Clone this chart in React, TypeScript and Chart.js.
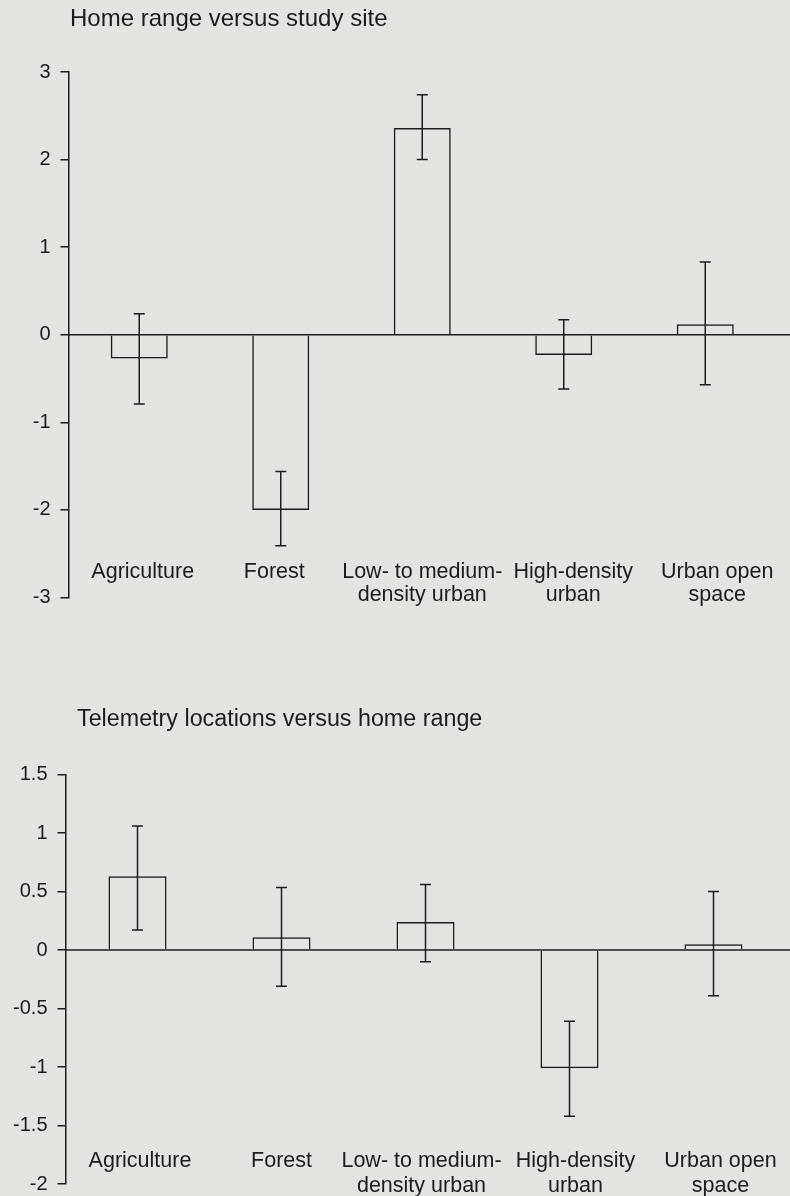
import React, { useEffect, useRef } from "react";
import { Chart, registerables } from "chart.js";

Chart.register(...registerables);

// ---------- data ----------
const categories: string[][] = [
  ["Agriculture"],
  ["Forest"],
  ["Low- to medium-", "density urban"],
  ["High-density", "urban"],
  ["Urban open", "space"],
];

const homeTitle = "Home range versus study site";
const homeValues = [-0.27, -2.0, 2.36, -0.23, 0.12];
const homeErrHigh = [0.24, -1.56, 2.74, 0.17, 0.83];
const homeErrLow = [-0.79, -2.41, 2.0, -0.62, -0.57];
const homeTicks = [3, 2, 1, 0, -1, -2, -3];
const homeTickLabels = ["3", "2", "1", "0", "-1", "-2", "-3"];

const telTitle = "Telemetry locations versus home range";
const telValues = [0.63, 0.11, 0.24, -1.01, 0.05];
const telErrHigh = [1.06, 0.535, 0.56, -0.61, 0.5];
const telErrLow = [0.17, -0.31, -0.1, -1.42, -0.39];
const telTicks = [1.5, 1, 0.5, 0, -0.5, -1, -1.5, -2];
const telTickLabels = ["1.5", "1", "0.5", "0", "-0.5", "-1", "-1.5", "-2"];

// ---------- style ----------
const INK = "#1c1c1c";
const BG = "#e4e3e0";
const FONT = "'Liberation Sans', Arial, Helvetica, sans-serif";

type PanelCfg = {
  title: string;
  values: number[];
  high: number[];
  low: number[];
  ticks: number[];
  tickLabels: string[];
  height: number;
  axisWidth: number;
  padTop: number;
  padBottom: number;
  padRight: number;
  titleX: number;
  titleY: number;
  titleSize: number;
  labelShift: number[];
  line1: number;
  line2: number;
};

function makeOverlay(cfg: PanelCfg) {
  return {
    id: "overlay",
    afterDatasetsDraw(chart: any) {
      const { ctx, chartArea } = chart;
      const xs = chart.scales.x;
      const ys = chart.scales.y;
      ctx.save();
      ctx.strokeStyle = INK;
      ctx.lineWidth = 1.5;
      // zero line
      const y0 = ys.getPixelForValue(0);
      ctx.beginPath();
      ctx.moveTo(chartArea.left, y0);
      ctx.lineTo(chart.width, y0);
      ctx.stroke();
      // error bars
      cfg.values.forEach((_v, i) => {
        const cx = xs.getPixelForValue(i);
        const yh = ys.getPixelForValue(cfg.high[i]);
        const yl = ys.getPixelForValue(cfg.low[i]);
        ctx.beginPath();
        ctx.moveTo(cx, yh);
        ctx.lineTo(cx, yl);
        ctx.moveTo(cx - 5.5, yh);
        ctx.lineTo(cx + 5.5, yh);
        ctx.moveTo(cx - 5.5, yl);
        ctx.lineTo(cx + 5.5, yl);
        ctx.stroke();
      });
      // category labels
      ctx.fillStyle = INK;
      ctx.font = `21.5px ${FONT}`;
      ctx.textAlign = "center";
      ctx.textBaseline = "alphabetic";
      categories.forEach((lines, i) => {
        const cx = xs.getPixelForValue(i) + cfg.labelShift[i];
        lines.forEach((t, k) => {
          ctx.fillText(t, cx, chartArea.bottom + (k === 0 ? cfg.line1 : cfg.line2));
        });
      });
      // title
      ctx.font = `${cfg.titleSize}px ${FONT}`;
      ctx.textAlign = "left";
      ctx.fillText(cfg.title, cfg.titleX, cfg.titleY);
      ctx.restore();
    },
  };
}

function Panel({ cfg }: { cfg: PanelCfg }) {
  const ref = useRef<HTMLCanvasElement | null>(null);
  useEffect(() => {
    if (!ref.current) return;
    const chart = new Chart(ref.current, {
      type: "bar",
      data: {
        labels: categories.map((c) => c.join(" ")),
        datasets: [
          {
            data: cfg.values,
            backgroundColor: "rgba(0,0,0,0)",
            borderColor: INK,
            borderWidth: 1.5,
            borderSkipped: "start",
            barPercentage: 0.403,
            categoryPercentage: 1,
          },
        ],
      },
      options: {
        animation: false,
        responsive: false,
        maintainAspectRatio: false,
        layout: {
          padding: { top: cfg.padTop, bottom: cfg.padBottom, left: 0, right: cfg.padRight },
        },
        plugins: {
          legend: { display: false },
          title: { display: false },
          tooltip: { enabled: false },
        },
        scales: {
          x: { type: "category", display: false, offset: true },
          y: {
            min: Math.min(...cfg.ticks),
            max: Math.max(...cfg.ticks),
            afterBuildTicks: (scale: any) => {
              scale.ticks = cfg.ticks.map((v) => ({ value: v }));
            },
            afterFit: (scale: any) => {
              scale.width = cfg.axisWidth;
              scale.paddingTop = 0;
              scale.paddingBottom = 0;
            },
            ticks: {
              color: INK,
              font: { family: FONT, size: 20 },
              padding: 10,
              callback: (v: any) => {
                const idx = cfg.ticks.indexOf(Number(v));
                return idx >= 0 ? cfg.tickLabels[idx] : "";
              },
            },
            grid: {
              drawOnChartArea: false,
              drawTicks: true,
              tickLength: 8,
              color: INK,
              lineWidth: 1.5,
            },
            border: { display: true, color: INK, width: 1.5 },
          },
        },
      },
      plugins: [makeOverlay(cfg)],
    } as any);
    return () => chart.destroy();
  }, [cfg]);
  return <canvas ref={ref} width={790} height={cfg.height} style={{ display: "block" }} />;
}

const homeCfg: PanelCfg = {
  title: homeTitle,
  values: homeValues,
  high: homeErrHigh,
  low: homeErrLow,
  ticks: homeTicks,
  tickLabels: homeTickLabels,
  height: 640,
  axisWidth: 68.5,
  padTop: 72,
  padBottom: 42.5,
  padRight: 14,
  titleX: 70,
  titleY: 26,
  titleSize: 24,
  labelShift: [3.5, -6.5, 0, 9.5, 12],
  line1: -20,
  line2: 3.5,
};

const telCfg: PanelCfg = {
  title: telTitle,
  values: telValues,
  high: telErrHigh,
  low: telErrLow,
  ticks: telTicks,
  tickLabels: telTickLabels,
  height: 556,
  axisWidth: 65.5,
  padTop: 134.5,
  padBottom: 12,
  padRight: 4.5,
  titleX: 77,
  titleY: 86,
  titleSize: 23.3,
  labelShift: [2.5, 0, -4, 6, 7],
  line1: -17.5,
  line2: 8,
};

export default function App() {
  return (
    <div
      style={{
        position: "absolute",
        left: 0,
        top: 0,
        width: 790,
        height: 1196,
        background: BG,
        overflow: "hidden",
      }}
    >
      <Panel cfg={homeCfg} />
      <Panel cfg={telCfg} />
    </div>
  );
}
